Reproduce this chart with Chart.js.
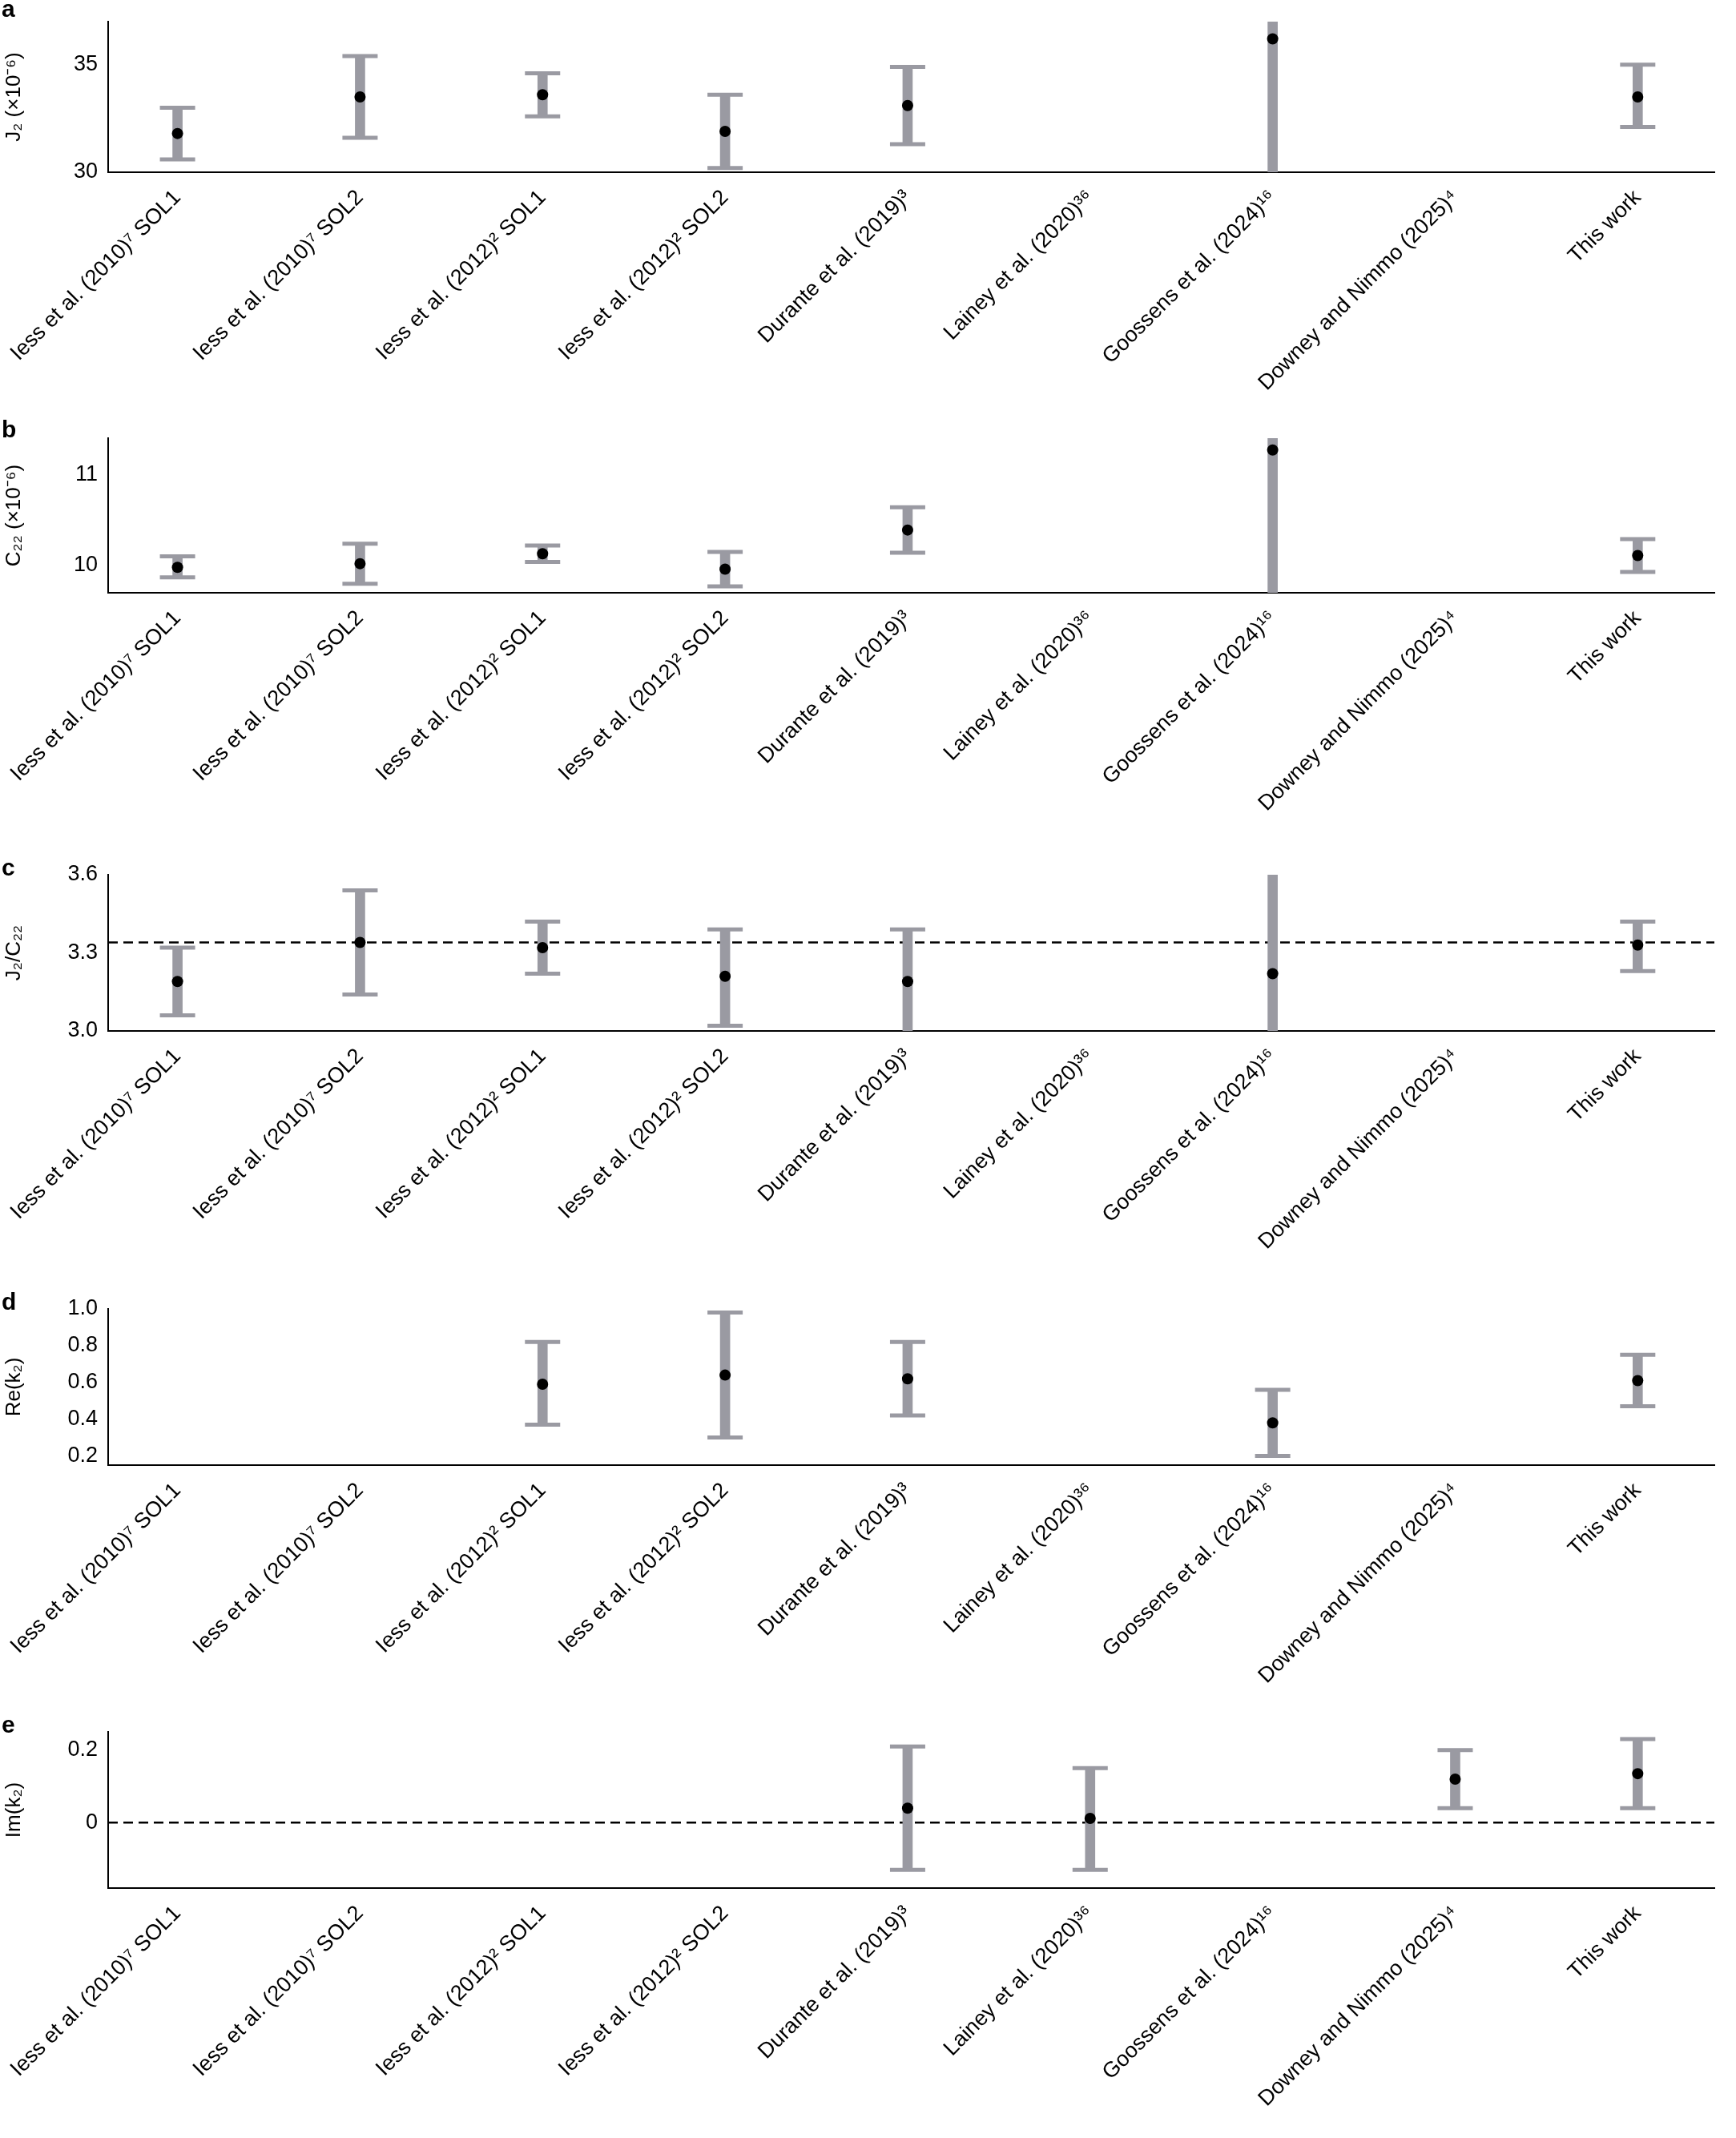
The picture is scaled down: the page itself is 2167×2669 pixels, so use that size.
<!DOCTYPE html>
<html lang="en">
<head>
<meta charset="UTF-8">
<title>Enceladus gravity comparison</title>
<script src="https://cdn.jsdelivr.net/npm/chart.js"></script>
<style>
  body, html { margin: 0; padding: 0; background: #fff; font-family: "Liberation Sans", Arial, sans-serif; }
  .panel { position: absolute; left: 0; width: 2167px; }
  .letter { position: absolute; left: 2px; font-weight: bold; font-size: 30px; }
</style>
</head>
<body>
<div id="root"></div>
<script>
const studies = ['Iess et al. (2010)⁷ SOL1', 'Iess et al. (2010)⁷ SOL2', 'Iess et al. (2012)² SOL1',
  'Iess et al. (2012)² SOL2', 'Durante et al. (2019)³', 'Lainey et al. (2020)³⁶',
  'Goossens et al. (2024)¹⁶', 'Downey and Nimmo (2025)⁴', 'This work'];

// value, lower, upper (null = not reported); caps null where bar runs off the axis
const j2Val = [31.8, 33.5, 33.6, 31.9, 33.1, null, 36.2, null, 33.5];
const j2Lo  = [30.6, 31.6, 32.6, 30.2, 31.3, null, 28.0, null, 32.1];
const j2Hi  = [33.0, 35.4, 34.6, 33.6, 34.9, null, 40.0, null, 35.0];

const c22Val = [9.98, 10.02, 10.13, 9.96, 10.39, null, 11.27, null, 10.11];
const c22Lo  = [9.87, 9.80, 10.04, 9.77, 10.14, null, 9.0, null, 9.93];
const c22Hi  = [10.10, 10.24, 10.22, 10.15, 10.64, null, 12.0, null, 10.29];

const ratVal = [3.19, 3.34, 3.32, 3.21, 3.19, null, 3.22, null, 3.33];
const ratLo  = [3.06, 3.14, 3.22, 3.02, 2.99, null, 2.8, null, 3.23];
const ratHi  = [3.32, 3.54, 3.42, 3.39, 3.39, null, 3.7, null, 3.42];

const reVal = [null, null, 0.59, 0.64, 0.62, null, 0.38, null, 0.61];
const reLo  = [null, null, 0.37, 0.30, 0.42, null, 0.20, null, 0.47];
const reHi  = [null, null, 0.82, 0.98, 0.82, null, 0.56, null, 0.75];

const imVal = [null, null, null, null, 0.04, 0.012, null, 0.12, 0.135];
const imLo  = [null, null, null, null, -0.13, -0.13, null, 0.04, 0.04];
const imHi  = [null, null, null, null, 0.21, 0.15, null, 0.20, 0.23];

const panels = [
  { id: 'a', title: 'J₂ (×10⁻⁶)', val: j2Val, lo: j2Lo, hi: j2Hi, min: 30, max: 37, ticks: [30, 35], top: 0, h: 520, pad: 20, capOff: [6] },
  { id: 'b', title: 'C₂₂ (×10⁻⁶)', val: c22Val, lo: c22Lo, hi: c22Hi, min: 9.7, max: 11.4, ticks: [10, 11], top: 520, h: 530, pad: 25, capOff: [6] },
  { id: 'c', title: 'J₂/C₂₂', val: ratVal, lo: ratLo, hi: ratHi, min: 3.0, max: 3.6, ticks: [3.0, 3.3, 3.6], top: 1050, h: 550, pad: 42, capOff: [4, 6], dash: 3.34 },
  { id: 'd', title: 'Re(k₂)', val: reVal, lo: reLo, hi: reHi, min: 0.15, max: 1.0, ticks: [0.2, 0.4, 0.6, 0.8, 1.0], top: 1600, h: 525, pad: 34, capOff: [] },
  { id: 'e', title: 'Im(k₂)', val: imVal, lo: imLo, hi: imHi, min: -0.18, max: 0.25, ticks: [0, 0.2], top: 2125, h: 544, pad: 37, capOff: [], dash: 0 }
];

const grey = '#9a9aa2';
const PLOT_H = 195;

panels.forEach(p => {
  const div = document.createElement('div');
  div.className = 'panel';
  div.style.top = p.top + 'px';
  div.style.height = p.h + 'px';
  div.innerHTML = `<div class="letter" style="top:${p.pad - 26}px">${p.id}</div><canvas id="c${p.id}"></canvas>`;
  document.getElementById('root').appendChild(div);

  const bars = [], pts = [], caps = [];
  p.val.forEach((v, i) => {
    if (v === null) return;
    bars.push({ x: i, y: [p.lo[i], p.hi[i]] });
    pts.push({ x: i, y: v });
    if (!p.capOff.includes(i)) {
      caps.push({ x: i, y: p.lo[i] });
      caps.push({ x: i, y: p.hi[i] });
    }
  });
  if (p.id === 'c') {
    // Durante upper cap only; lower end sits on the axis
    caps.push({ x: 4, y: 3.39 });
  }

  const datasets = [
    { type: 'bar', data: bars, backgroundColor: grey, barThickness: 12, order: 3 },
    { type: 'scatter', data: caps, pointStyle: 'line', radius: 22, borderWidth: 5, borderColor: grey, order: 2 },
    { type: 'scatter', data: pts, pointStyle: 'circle', radius: 7, backgroundColor: '#000', borderWidth: 0, order: 1 }
  ];
  if (p.dash !== undefined) {
    datasets.push({ type: 'line', data: [{ x: -0.38, y: p.dash }, { x: 8.42, y: p.dash }], borderColor: '#000',
      borderWidth: 2.5, borderDash: [12, 7], pointRadius: 0, order: 4 });
  }

  new Chart(document.getElementById('c' + p.id), {
    type: 'bar',
    data: { datasets },
    options: {
      responsive: true, maintainAspectRatio: false, animation: false,
      layout: { padding: { top: p.pad, right: 7, left: 0, bottom: 0 } },
      plugins: { legend: { display: false }, tooltip: { enabled: false } },
      scales: {
        x: {
          type: 'linear', min: -0.38, max: 8.42, offset: false,
          grid: { display: false, drawTicks: true, tickLength: 10, color: '#000' },
          border: { color: '#000', width: 2 },
          afterBuildTicks: s => { s.ticks = studies.map((_, i) => ({ value: i })); },
          afterFit: s => { s.height = p.h - p.pad - PLOT_H; },
          ticks: { autoSkip: false, minRotation: 45, maxRotation: 45, color: '#000', padding: 6,
            font: { size: 27, family: 'Liberation Sans' }, callback: v => studies[v] }
        },
        y: {
          min: p.min, max: p.max,
          grid: { display: false, tickLength: 10 },
          border: { color: '#000', width: 2 },
          afterBuildTicks: s => { s.ticks = p.ticks.map(v => ({ value: v })); },
          afterFit: s => { s.width = 135; },
          title: { display: true, text: p.title, color: '#000', font: { size: 26, family: 'Liberation Sans' }, padding: 2 },
          ticks: { color: '#000', font: { size: 27, family: 'Liberation Sans' },
            callback: v => (p.id === 'a' || p.id === 'b' || p.id === 'e') ? String(v) : v.toFixed(1) }
        }
      }
    }
  });
});
</script>
</body>
</html>
